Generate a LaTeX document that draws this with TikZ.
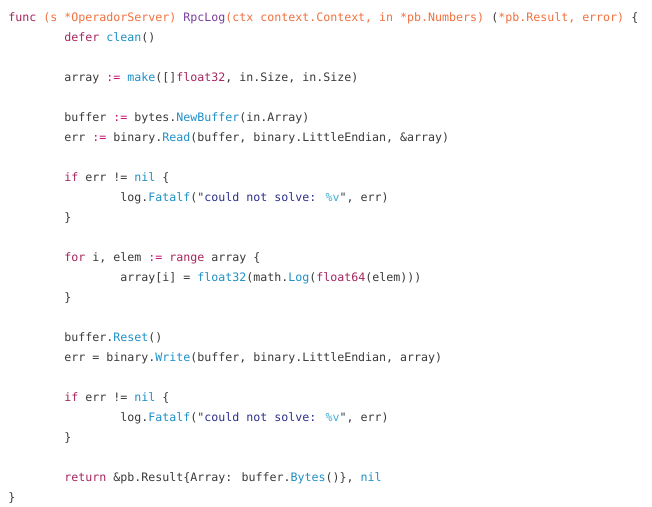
\documentclass[tikz,border=0pt]{standalone}
\usepackage{fontspec}
\newfontfamily\codefont{DejaVu Sans Mono}
\usepackage{tikz}

\definecolor{plaincol}{HTML}{3A3A3A}
\definecolor{kwcol}{HTML}{A6265E}
\definecolor{opcol}{HTML}{C8157A}
\definecolor{argcol}{HTML}{F2703F}
\definecolor{namecol}{HTML}{7B3F9E}
\definecolor{fncol}{HTML}{1E90C8}
\definecolor{strcol}{HTML}{2E318C}
\definecolor{fmtcol}{HTML}{45AED6}

\newcommand{\cKw}[1]{\textcolor{kwcol}{#1}}
\newcommand{\cOp}[1]{\textcolor{opcol}{#1}}
\newcommand{\cArg}[1]{\textcolor{argcol}{#1}}
\newcommand{\cName}[1]{\textcolor{namecol}{#1}}
\newcommand{\cFn}[1]{\textcolor{fncol}{#1}}
\newcommand{\cStr}[1]{\textcolor{strcol}{#1}}
\newcommand{\cFmt}[1]{\textcolor{fmtcol}{#1}}

\begin{document}
\begin{tikzpicture}[x=0.75pt,y=-0.75pt,
		codeline/.style={anchor=base west, inner sep=0pt, text=plaincol, font=\codefont\fontsize{8.72pt}{10pt}\selectfont}]
			%\draw [help lines] (0,0) grid (652,506);
			\useasboundingbox [fill=white] (0,0) rectangle (652,506);
			
			\node [codeline] (l0) at (8,21.5) {\cKw{func} \cArg{(s *OperadorServer)} \cName{RpcLog}\cArg{(ctx context.Context, in *pb.Numbers)} (\cArg{*pb.Result, error)} \{};
			\node [codeline] (l1) at (64,41.5) {\cKw{defer} \cFn{clean}()};
			
			\node [codeline] (l3) at (64,81.5) {array \cOp{:=} \cFn{make}([]\cKw{float32}, in.Size, in.Size)};
			
			\node [codeline] (l5) at (64,121.5) {buffer \cOp{:=} bytes.\cFn{NewBuffer}(in.Array)};
			\node [codeline] (l6) at (64,141.5) {err \cOp{:=} binary.\cFn{Read}(buffer, binary.LittleEndian, \&array)};
			
			\node [codeline] (l8) at (64,181.5) {\cKw{if} err != \cFn{nil} \{};
			\node [codeline] (l9) at (120,201.5) {log.\cFn{Fatalf}("\cStr{could not solve: }\cFmt{\%v}", err)};
			\node [codeline] (l10) at (64,221.5) {\}};
			
			\node [codeline] (l12) at (64,261.5) {\cKw{for} i, elem \cOp{:=} \cKw{range} array \{};
			\node [codeline] (l13) at (120,281.5) {array[i] = \cFn{float32}(math.\cFn{Log}(\cKw{float64}(elem)))};
			\node [codeline] (l14) at (64,301.5) {\}};
			
			\node [codeline] (l16) at (64,341.5) {buffer.\cFn{Reset}()};
			\node [codeline] (l17) at (64,361.5) {err = binary.\cFn{Write}(buffer, binary.LittleEndian, array)};
			
			\node [codeline] (l19) at (64,401.5) {\cKw{if} err != \cFn{nil} \{};
			\node [codeline] (l20) at (120,421.5) {log.\cFn{Fatalf}("\cStr{could not solve: }\cFmt{\%v}", err)};
			\node [codeline] (l21) at (64,441.5) {\}};
			
			\node [codeline] (l23) at (64,481.5) {\cKw{return} \&pb.Result\{Array: buffer.\cFn{Bytes}()\}, \cFn{nil}};
			\node [codeline] (l24) at (8,501.5) {\}};
	\end{tikzpicture}
\end{document}
